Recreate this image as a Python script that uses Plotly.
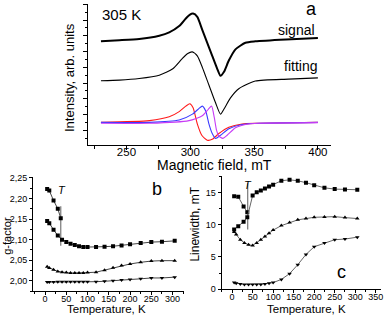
import plotly.graph_objects as go

# ---------------- Panel a : EPR spectra at 305 K ----------------
field_signal = [230, 244.5, 260, 275.7, 283.5, 291.3, 296.5, 299.5, 302.2, 305.5, 309.4, 313.3,
                317.2, 321.1, 323.7, 326.3, 330.2, 335.4, 343.2, 351, 375, 400]
signal = [5.66, 5.72, 5.80, 6.01, 6.22, 6.62, 7.10, 7.33, 7.41, 7.20, 6.38, 5.56,
          4.73, 3.91, 3.46, 3.70, 4.43, 5.14, 5.56, 5.65, 5.77, 5.86]

field_fit = [230, 244.5, 260, 275.7, 286.3, 293.3, 298, 301.6, 305.5, 309.4, 314.6, 319.8,
             323.7, 326.3, 331.5, 338, 351, 377, 400]
fitting = [3.15, 3.19, 3.29, 3.50, 3.91, 4.52, 4.88, 4.98, 4.73, 4.01, 2.88, 1.75,
           1.03, 1.34, 2.06, 2.64, 3.13, 3.25, 3.33]

field_red = [230, 268, 283.5, 291.3, 296.5, 299.6, 302.2, 305.5, 309, 313.3, 317.2, 322.4,
             330.2, 340.6, 353.6, 400]
comp_red = [0.51, 0.62, 0.86, 1.19, 1.54, 1.69, 1.44, 0.41, -0.31, -0.62, -0.57, -0.20,
            0.20, 0.41, 0.45, 0.51]

field_blue = [230, 268, 291.3, 301.7, 306.9, 309.4, 312.1, 314.6, 317.2, 319.8, 323.7,
              330.2, 340.6, 353.6, 400]
comp_blue = [0.51, 0.51, 0.66, 1.03, 1.40, 1.54, 1.23, 0.41, -0.20, -0.51, -0.31,
             0.10, 0.37, 0.45, 0.51]

field_mag = [230, 268, 299, 309.4, 314.1, 316.7, 318.8, 320.6, 322.4, 325.5, 328.9,
             335.4, 345.8, 353.6, 400]
comp_mag = [0.45, 0.45, 0.62, 0.93, 1.34, 1.54, 0.82, 0.00, -0.37, -0.51, -0.31,
            0.17, 0.41, 0.45, 0.49]

# ---------------- Panel b : g-factor vs temperature ----------------
temp_grid = [5, 10, 20, 30, 40, 50, 60, 70, 80, 90, 100, 120, 140, 160, 180, 200, 225, 250, 275, 305]
temp_g1 = [5, 10, 20, 30, 37]
g1 = [2.223, 2.219, 2.195, 2.175, 2.152]
g2 = [2.145, 2.140, 2.124, 2.110, 2.100, 2.094, 2.090, 2.087, 2.084, 2.082, 2.082, 2.082,
      2.083, 2.084, 2.086, 2.089, 2.092, 2.094, 2.095, 2.097]
g3 = [2.034, 2.031, 2.027, 2.023, 2.021, 2.020, 2.019, 2.019, 2.019, 2.019, 2.020, 2.021,
      2.026, 2.032, 2.037, 2.041, 2.045, 2.048, 2.049, 2.049]
g4 = [1.997, 1.997, 1.997, 1.998, 1.998, 1.998, 1.998, 1.998, 1.998, 1.998, 1.998, 1.998,
      1.999, 2.000, 2.002, 2.003, 2.005, 2.007, 2.007, 2.009]
tline_b_T = [37, 37]
tline_b_g = [2.085, 2.181]

# ---------------- Panel c : linewidth vs temperature ----------------
temp_lw1 = [5, 15, 28, 37]
lw1 = [14.5, 14.4, 12.9, 12.0]
temp_lw2 = [5, 15, 28, 37, 50, 60, 70, 80, 90, 100, 120, 140, 160, 180, 200, 225, 250, 275, 305]
lw2 = [9.3, 9.8, 10.5, 11.2, 14.6, 15.1, 15.4, 15.7, 16.0, 16.3, 16.9, 17.05, 16.9, 16.6,
       16.2, 15.8, 15.6, 15.55, 15.5]
lw3 = [8.9, 8.5, 7.7, 7.2, 6.9, 6.8, 7.2, 7.7, 8.2, 8.7, 9.2, 9.9, 10.4, 10.8, 11.0, 11.2,
       11.25, 11.3, 11.15, 11.0]
lw4 = [1.0, 0.9, 0.8, 0.7, 0.7, 0.7, 0.7, 0.7, 0.8, 0.9, 1.0, 1.5, 2.4, 3.8, 5.4, 6.6,
       7.2, 7.7, 7.8, 8.1]
tline_c_T = [38, 38]
tline_c_lw = [9.3, 16.5]

FONT = "Liberation Sans, Arial, sans-serif"
fig = go.Figure()

# panel a traces
fig.add_trace(go.Scatter(x=field_signal, y=signal, mode="lines",
                         line=dict(color="black", width=2.0, shape="spline", smoothing=0.6),
                         xaxis="x", yaxis="y"))
fig.add_trace(go.Scatter(x=field_fit, y=fitting, mode="lines",
                         line=dict(color="black", width=1.1, shape="spline", smoothing=0.6),
                         xaxis="x", yaxis="y"))
for fx, fy, col in [(field_red, comp_red, "#ff1a1a"),
                    (field_blue, comp_blue, "#3a3aff"),
                    (field_mag, comp_mag, "#c83cf5")]:
    fig.add_trace(go.Scatter(x=fx, y=fy, mode="lines",
                             line=dict(color=col, width=1.1, shape="spline", smoothing=0.6),
                             xaxis="x", yaxis="y"))

# panel b traces
LINE = dict(color="#444", width=1)
fig.add_trace(go.Scatter(x=tline_b_T, y=tline_b_g, mode="lines", line=dict(color="#777", width=1.2),
                         xaxis="x2", yaxis="y2"))
for tx, gy, sym in [(temp_g1, g1, "square"), (temp_grid, g2, "square"),
                    (temp_grid, g3, "triangle-up"), (temp_grid, g4, "triangle-down")]:
    fig.add_trace(go.Scatter(x=tx, y=gy, mode="lines+markers", line=LINE,
                             marker=dict(symbol=sym, size=4, color="black"),
                             xaxis="x2", yaxis="y2"))

# panel c traces
fig.add_trace(go.Scatter(x=tline_c_T, y=tline_c_lw, mode="lines", line=dict(color="#777", width=1.2),
                         xaxis="x3", yaxis="y3"))
for tx, ly, sym in [(temp_lw1, lw1, "square"), (temp_lw2, lw2, "square"),
                    (temp_grid, lw3, "triangle-up"), (temp_grid, lw4, "triangle-down")]:
    fig.add_trace(go.Scatter(x=tx, y=ly, mode="lines+markers", line=dict(color="#666", width=1),
                             marker=dict(symbol=sym, size=4, color="black"),
                             xaxis="x3", yaxis="y3"))

W, H = 390, 319
def px(x): return x / W
def py(y): return 1 - y / H

axis_common = dict(showline=True, linecolor="black", linewidth=1, ticks="outside",
                   tickcolor="black", showgrid=False, zeroline=False, mirror=False)

fig.update_layout(
    width=W, height=H, margin=dict(l=0, r=0, t=0, b=0), autosize=False,
    showlegend=False, plot_bgcolor="white", paper_bgcolor="white",
    separators=", ", hovermode=False,
    font=dict(family=FONT, color="black"),
    xaxis=dict(domain=[px(88), px(333)], anchor="y", range=[219.5, 410.5],
               tickvals=[250, 300, 350, 400], ticklen=4, tickwidth=1, ticklabelstandoff=-8,
               tickfont=dict(size=11.5), minor=dict(tickvals=[225, 275, 325, 375], ticklen=3,
                                                    ticks="outside", tickcolor="black"),
               **axis_common),
    yaxis=dict(domain=[py(145.3), 1.0], anchor="x", range=[-0.94, 8.02],
               dtick=1, tick0=0, ticklen=4, showticklabels=False,
               minor=dict(dtick=0.5, ticklen=2, ticks="outside", tickcolor="black"),
               **axis_common),
    xaxis2=dict(domain=[px(33.3), px(185)], anchor="y2", range=[-28, 327],
                dtick=50, tick0=0, ticklen=3, tickfont=dict(size=9), ticklabelstandoff=-4,
                minor=dict(dtick=25, ticklen=2, ticks="outside", tickcolor="black"),
                **axis_common),
    yaxis2=dict(domain=[py(295.5), py(178)], anchor="x2", range=[1.975, 2.252],
                dtick=0.05, tick0=2.0, tickformat=".2f", ticklen=3, tickfont=dict(size=9),
                minor=dict(dtick=0.025, ticklen=2, ticks="outside", tickcolor="black"),
                **axis_common),
    xaxis3=dict(domain=[px(222.7), px(383.3)], anchor="y3", range=[-25.7, 363.6],
                dtick=50, tick0=0, ticklen=3, tickfont=dict(size=9), ticklabelstandoff=-4,
                minor=dict(dtick=25, ticklen=2, ticks="outside", tickcolor="black"),
                **axis_common),
    yaxis3=dict(domain=[py(293.3), py(177.3)], anchor="x3", range=[0, 17.6],
                dtick=5, tick0=0, ticklen=3, tickfont=dict(size=9),
                minor=dict(dtick=2.5, ticklen=2, ticks="outside", tickcolor="black"),
                **axis_common),
)

def ann(text, x, y, size, angle=0, xanchor="center", yanchor="middle"):
    fig.add_annotation(text=text, x=px(x), y=py(y), xref="paper", yref="paper",
                       showarrow=False, font=dict(size=size, family=FONT, color="black"),
                       textangle=angle, xanchor=xanchor, yanchor=yanchor)

ann("305 K", 122, 10.5, 15)
ann("a", 313.5, 17, 18, yanchor="bottom")
ann("signal", 319, 27, 14, xanchor="right")
ann("fitting", 321, 64, 14, xanchor="right")
ann("Intensity, arb. units", 70.5, 76, 13, angle=-90)
ann("Magnetic field, mT", 216, 165.5, 14)
ann("g-factor", 7.5, 238, 11, angle=-90)
ann("Temperature, K", 107, 313.5, 11.5)
ann("b", 157.5, 190, 18)
ann("<i>T</i>", 62.5, 191.5, 11)
ann("Linewidth, mT", 196, 226, 12, angle=-90)
ann("Temperature, K", 308, 313.5, 11.5)
ann("c", 343, 276, 18)
ann("<i>T</i>", 249, 186, 11)

fig.write_html("out.html", config={"displayModeBar": False},
               post_script="document.body.style.margin='0';document.body.style.overflow='hidden';")
